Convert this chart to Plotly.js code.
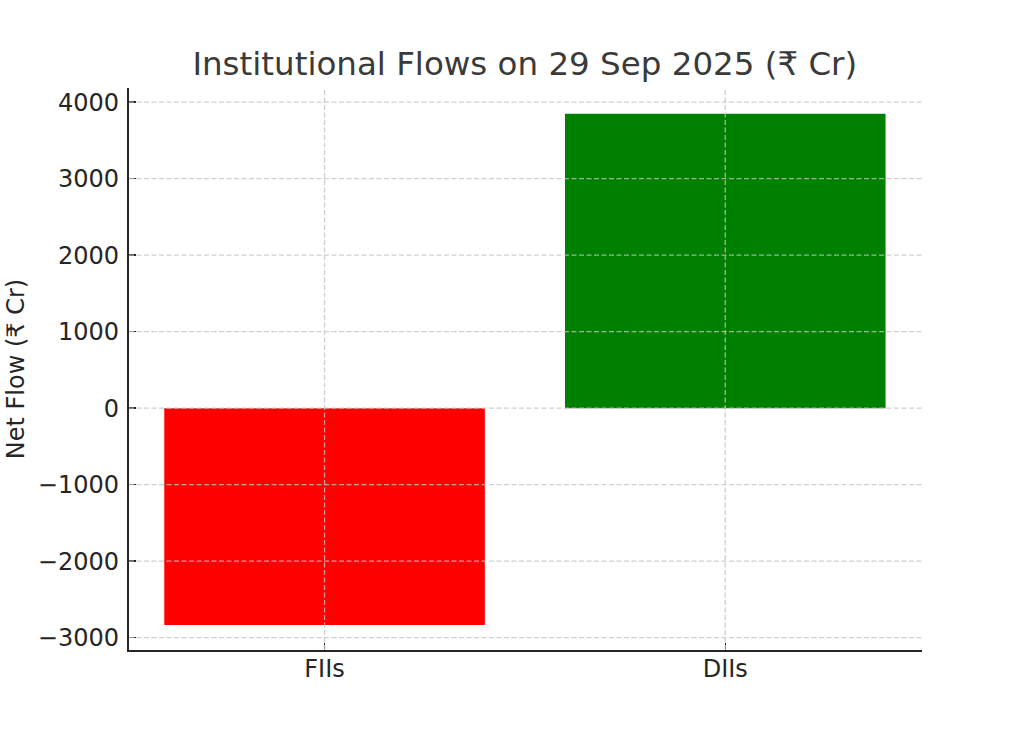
<!DOCTYPE html>
<html><head><meta charset="utf-8">
<script src="https://cdn.plot.ly/plotly-3.0.1.min.js"></script>
<style>html,body{margin:0;padding:0;background:#fff}</style></head>
<body><div id="c" style="width:1024px;height:731px"></div>
<script>
const categories = ["FIIs","DIIs"];
const netFlow = [-2835, 3850];
const barColors = ["#ff0000","#008000"];
const tickValues = [-3000,-2000,-1000,0,1000,2000,3000,4000];
const tickLabels = ["\u22123000","\u22122000","\u22121000","0","1000","2000","3000","4000"];
const font = "DejaVu Sans";
const gridStyle = {color:"rgba(195,195,195,0.8)",width:1.3,dash:"5px,2.5px"};
const gridShapes = tickValues.map(v=>({type:"line",layer:"above",xref:"paper",x0:0,x1:1,yref:"y",y0:v,y1:v,line:gridStyle}))
  .concat(categories.map((c,i)=>({type:"line",layer:"above",yref:"paper",y0:0,y1:1,xref:"x",x0:i,x1:i,line:gridStyle})));
Plotly.newPlot("c",[{type:"bar",x:[0,1],y:netFlow,width:0.8,marker:{color:barColors,line:{width:0}}}],{
  width:1024,height:731,margin:{l:129,r:102,t:88,b:81,pad:0},
  paper_bgcolor:"#fff",plot_bgcolor:"rgba(0,0,0,0)",showlegend:false,
  font:{family:font,color:"#262626",size:24},shapes:gridShapes,
  title:{text:"Institutional Flows on 29 Sep 2025 (₹ Cr)",font:{family:font,size:32.5,color:"#3a3a3a"},x:0.5125,xanchor:"center",y:0.913,yanchor:"middle"},
  xaxis:{type:"linear",range:[-0.488,1.491],tickmode:"array",tickvals:[0,1],ticktext:categories,showgrid:false,
    showline:true,linecolor:"#262626",linewidth:2.2,ticks:"inside",ticklen:7,tickwidth:1.5,tickcolor:"#262626",zeroline:false,ticklabelstandoff:-4,
    tickfont:{size:24,family:font,color:"#262626"}},
  yaxis:{range:[-3162,4185],tickmode:"array",tickvals:tickValues,ticktext:tickLabels,showgrid:false,
    showline:true,linecolor:"#262626",linewidth:2.2,ticks:"inside",ticklen:7,tickwidth:1.5,tickcolor:"#262626",zeroline:false,ticklabelstandoff:3,
    tickfont:{size:24,family:font,color:"#262626"},title:{text:"Net Flow (₹ Cr)",font:{size:24,family:font,color:"#262626"},standoff:7}}
},{displayModeBar:false,staticPlot:true});
</script></body></html>
